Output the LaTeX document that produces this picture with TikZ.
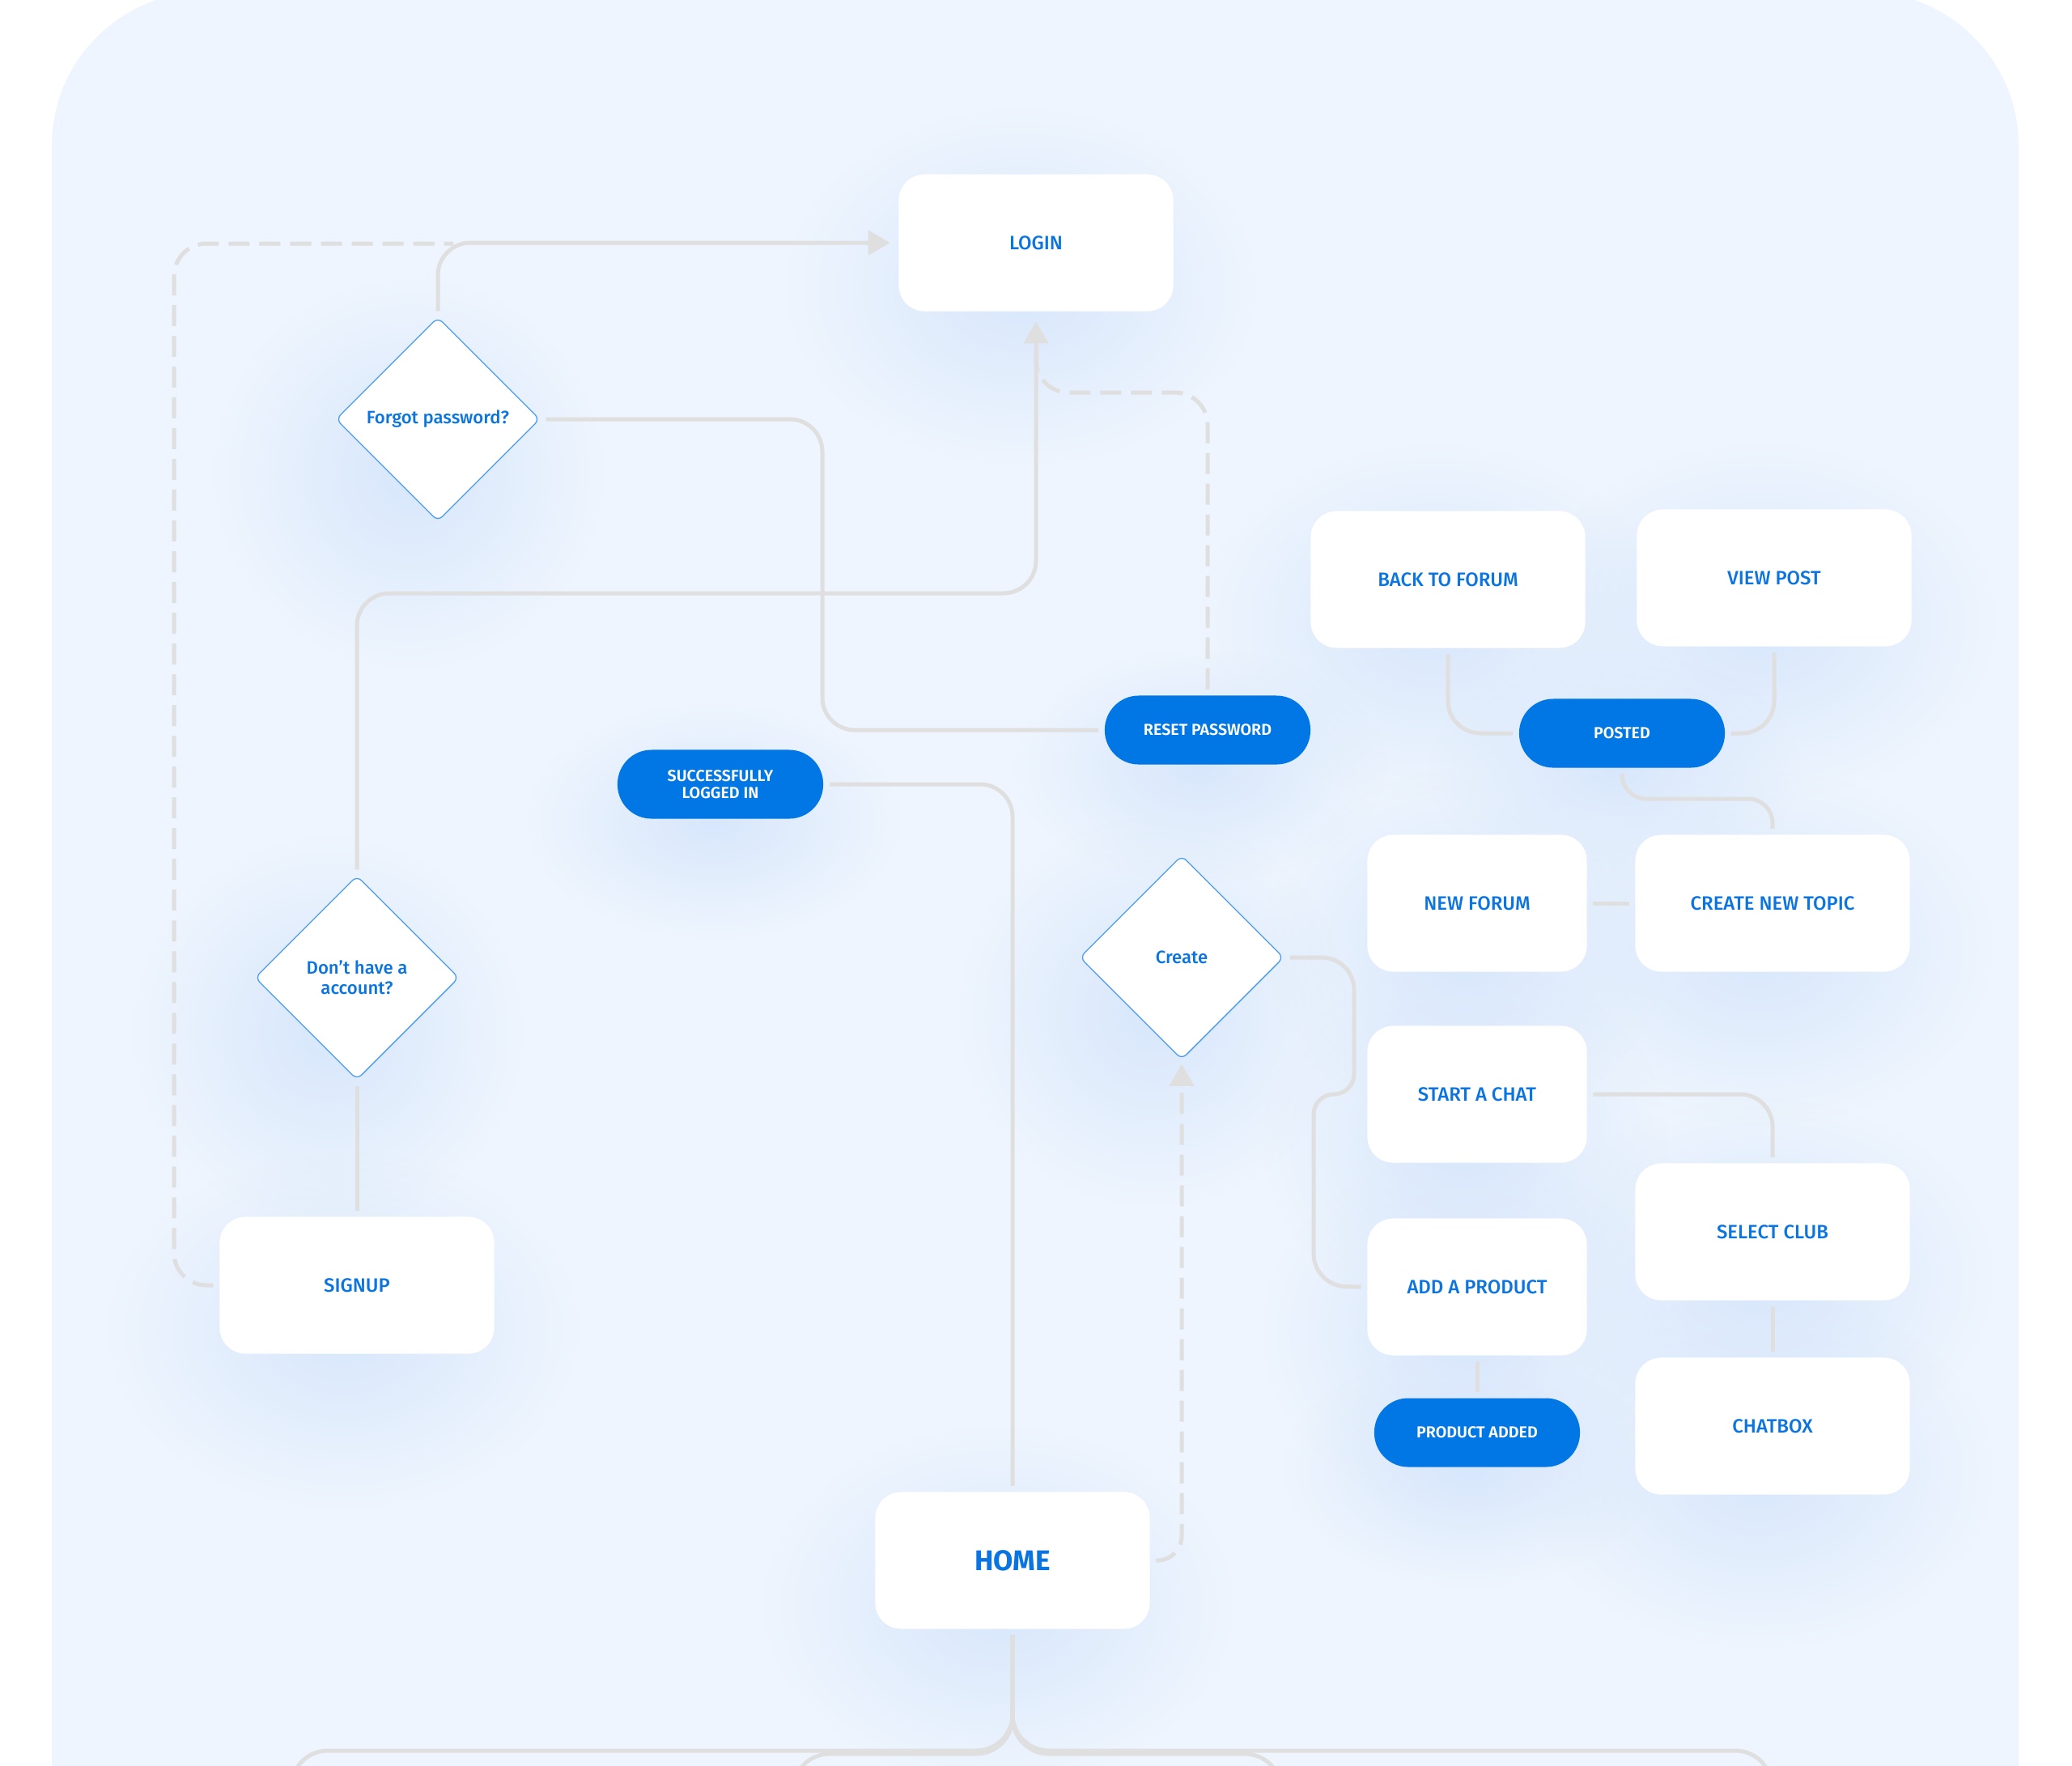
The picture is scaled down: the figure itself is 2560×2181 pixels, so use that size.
\documentclass[tikz,border=0pt]{standalone}
\usepackage{fontspec}
\setmainfont{Fira Sans}[UprightFont={* Medium}, BoldFont={* Bold}]
\newfontface\semibold{Fira Sans SemiBold}
\usetikzlibrary{arrows.meta,shapes.geometric,fadings}
\definecolor{bgblue}{HTML}{EEF5FE}
\definecolor{txtblue}{HTML}{0A74E0}
\definecolor{pillblue}{HTML}{0077E4}
\definecolor{linegray}{HTML}{DFDFDF}
\definecolor{dborder}{HTML}{4A9CF0}
\definecolor{glowblue}{HTML}{D8E7FC}
\tikzfading[name=glowfade, inner color=transparent!0, outer color=transparent!100]
\begin{document}
\begin{tikzpicture}[x=0.01cm, y=-0.01cm,
  card/.style={fill=white, rounded corners=0.32cm, minimum width=3.39cm, minimum height=1.69cm, inner sep=0pt, text=txtblue, font=\fontsize{6.8}{8.2}\selectfont, align=center},
  midcard/.style={card, minimum width=2.71cm},
  pill/.style={fill=pillblue, rounded corners=0.42cm, minimum width=2.54cm, minimum height=0.85cm, inner sep=0pt, text=white, font=\semibold\fontsize{5.6}{6}\selectfont, align=center},
  decision/.style={diamond, aspect=1, fill=white, draw=dborder, line width=0.013cm, rounded corners=0.08cm, minimum width=2.52cm, minimum height=2.52cm, inner sep=0pt, text=txtblue, font=\fontsize{6.3}{7.1}\selectfont, align=center},
  conn/.style={draw=linegray, line width=0.05cm, rounded corners=0.4cm, shorten <=0.07cm, shorten >=0.07cm},
  dashconn/.style={conn, dash pattern=on 0.26cm off 0.12cm},
  arrowtip/.style={-{Triangle[length=0.27cm,width=0.3cm]}},
  glow/.style={fill=glowblue, path fading=glowfade}
]
\useasboundingbox (0,0) rectangle (2560,2181);
\fill[white] (0,0) rectangle (2560,2181);
\begin{scope}
\clip (0,0) rectangle (2560,2181);
\fill[bgblue, rounded corners=1.9cm] (64,-10) rectangle (2494,2400);

% glows
\begin{scope}
\clip[rounded corners=1.9cm] (64,-10) rectangle (2494,2400);
\foreach \cx/\cy/\rx/\ry in {1262/355/2.9/2.2, 1772/770/2.9/2.2, 2175/769/2.9/2.2, 2173/1171/2.9/2.2, 2173/1577/2.9/2.2, 2173/1817/2.9/2.2, 424/1643/2.9/2.2, 1234/1983/2.9/2.2, 1810/1171/2.5/2.2, 1810/1407/2.5/2.2, 1810/1645/2.5/2.2, 1995/951/2.3/1.45, 1483/947/2.3/1.45, 881/1014/2.3/1.45, 1816/1815/2.3/1.45, 505/585/2.4/2.4, 405/1275/2.4/2.4, 1425/1250/2.4/2.4}
  \fill[glow] (\cx,\cy) ellipse [x radius=\rx cm, y radius=\ry cm];
\end{scope}

% nodes
\node[card] (login) at (1280,300) {LOGIN};
\node[card] (backforum) at (1789,716) {BACK TO FORUM};
\node[card] (viewpost) at (2192,714) {VIEW POST};
\node[pill] (posted) at (2004,906) {POSTED};
\node[pill] (reset) at (1492,902) {RESET PASSWORD};
\node[pill] (success) at (890,969) {SUCCESSFULLY\\LOGGED IN};
\node[decision] (forgot) at (541,518) {Forgot password?};
\node[decision] (noacc) at (441,1208) {Don’t have a\\account?};
\node[card] (signup) at (441,1588) {SIGNUP};
\node[card, font=\bfseries\fontsize{10}{12}\selectfont] (home) at (1251,1928) {HOME};
\node[decision] (create) at (1460,1183) {Create};
\node[midcard] (newforum) at (1825,1116) {NEW FORUM};
\node[card] (newtopic) at (2190,1116) {CREATE NEW TOPIC};
\node[midcard] (startchat) at (1825,1352) {START A CHAT};
\node[card] (selectclub) at (2190,1522) {SELECT CLUB};
\node[midcard] (addproduct) at (1825,1590) {ADD A PRODUCT};
\node[pill] (prodadded) at (1825,1770) {PRODUCT ADDED};
\node[card] (chatbox) at (2190,1762) {CHATBOX};

% connectors
\draw[dashconn, shorten >=0pt] (signup.west) -- (215,1588) -- (215,301) -- (560,301);
\draw[conn, arrowtip, shorten >=0.1cm] (forgot.north) -- (541,300) -- (login.west);
\draw[conn] (forgot.east) -- (1016,518) -- (1016,902) -- (reset.west);
\draw[conn, arrowtip, shorten >=0.12cm] (noacc.north) -- (441,733) -- (1280,733) -- (login.south);
\draw[dashconn, shorten >=0pt] (reset.north) -- (1492,485) -- (1280,485) -- (1280,425);
\draw[conn] (success.east) -- (1251,969) -- (home.north);
\draw[dashconn, arrowtip, rounded corners=0.3cm, shorten >=0.05cm] (home.east) -- (1460,1928) -- (create.south);
\draw[conn] [rounded corners=0.4cm] (create.east) -- (1673,1183) [rounded corners=0.25cm] -- (1673,1352) -- (1623,1352) [rounded corners=0.4cm] -- (1623,1589) -- (addproduct.west);
\draw[conn] (backforum.south) -- (1789,906) -- (posted.west);
\draw[conn] (viewpost.south) -- (2192,906) -- (posted.east);
\draw[conn, rounded corners=0.3cm] (posted.south) -- (2004,987) -- (2190,987) -- (newtopic.north);
\draw[conn] (newforum.east) -- (newtopic.west);
\draw[conn] (startchat.east) -- (2190,1352) -- (selectclub.north);
\draw[conn] (selectclub.south) -- (chatbox.north);
\draw[conn] (addproduct.south) -- (prodadded.north);
\draw[conn] (noacc.south) -- (signup.north);
\draw[conn, rounded corners=0.45cm, shorten >=0pt] (home.south) -- (1251,2163) -- (360,2163) -- (360,2260);
\draw[conn, rounded corners=0.45cm, shorten >=0pt] (home.south) -- (1251,2167) -- (980,2167) -- (980,2260);
\draw[conn, rounded corners=0.45cm, shorten >=0pt] (home.south) -- (1251,2167) -- (1583,2167) -- (1583,2260);
\draw[conn, rounded corners=0.45cm, shorten >=0pt] (home.south) -- (1251,2163) -- (2189,2163) -- (2189,2260);
\end{scope}
\end{tikzpicture}
\end{document}
